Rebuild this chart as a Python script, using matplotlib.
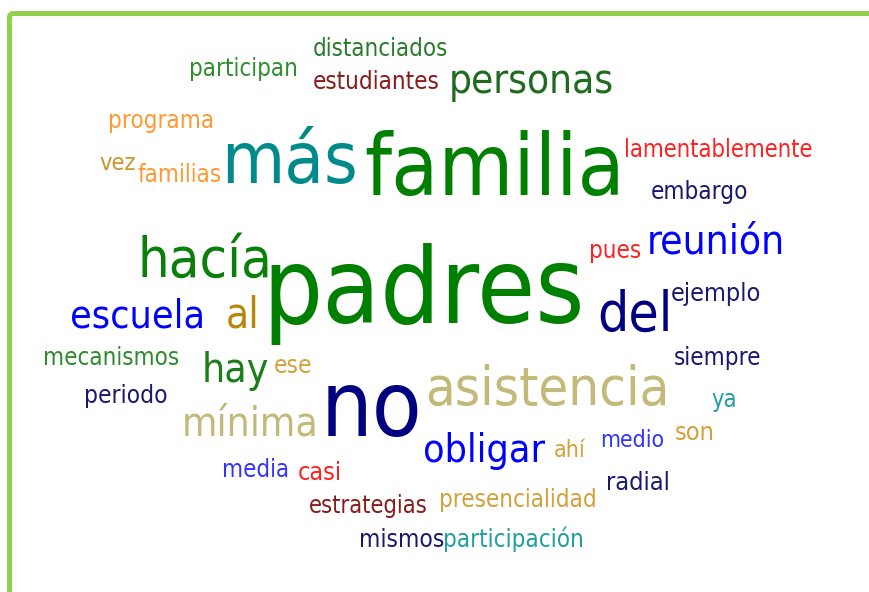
"""Word cloud: comentarios de padres sobre la asistencia."""

import matplotlib

matplotlib.use("Agg")
import matplotlib.pyplot as plt  # noqa: E402
from matplotlib import font_manager  # noqa: E402
from matplotlib.patches import FancyBboxPatch  # noqa: E402
from matplotlib.textpath import TextPath  # noqa: E402

# words of the cloud
words = [
    "padres", "familia", "más", "no", "asistencia", "hacía", "reunión",
    "escuela", "del", "personas", "mínima", "obligar", "hay", "al",
    "distanciados", "participan", "estudiantes", "programa", "vez",
    "familias", "lamentablemente", "embargo", "pues", "ejemplo",
    "mecanismos", "ese", "periodo", "media", "casi", "estrategias",
    "mismos", "siempre", "ya", "son", "medio", "ahí", "radial",
    "presencialidad", "participación",
]

# colour per word
colors = {
    "padres": "#008000", "familia": "#008000", "más": "#008b8b",
    "no": "#000080", "asistencia": "#c3b978", "hacía": "#0a7f0a",
    "reunión": "#0000ff", "escuela": "#0000ff", "del": "#000080",
    "personas": "#1f6b1f", "mínima": "#c3b978", "obligar": "#0000ff",
    "hay": "#197d19", "al": "#b8860b", "distanciados": "#2a7a2a",
    "participan": "#2f8f2f", "estudiantes": "#8b1a1a",
    "programa": "#ff9933", "vez": "#c8952a", "familias": "#ff9933",
    "lamentablemente": "#ff2020", "embargo": "#191970", "pues": "#ff2020",
    "ejemplo": "#191970", "mecanismos": "#2e8b2e", "ese": "#d4a03a",
    "periodo": "#191970", "media": "#3333ff", "casi": "#ff2020",
    "estrategias": "#8b1a1a", "mismos": "#191970", "siempre": "#191970",
    "ya": "#20a0a0", "son": "#d4a03a", "medio": "#3333ff", "ahí": "#d4a03a",
    "radial": "#191970", "presencialidad": "#d4a03a",
    "participación": "#20a0a0",
}

# layout: (left, right, baseline) in pixels of the canvas
layout = {
    "padres": (271, 580, 323), "familia": (366, 618, 195),
    "más": (227, 355, 183), "no": (328, 418, 436),
    "asistencia": (428, 665, 405), "hacía": (142, 268, 277),
    "reunión": (650, 782, 253), "escuela": (72, 202, 328),
    "del": (600, 668, 331), "personas": (452, 612, 93),
    "mínima": (185, 315, 436), "obligar": (425, 545, 462),
    "hay": (205, 268, 382), "al": (228, 256, 328),
    "distanciados": (314, 447, 56), "participan": (191, 296, 76),
    "estudiantes": (314, 438, 89), "programa": (110, 212, 128),
    "vez": (100, 135, 170), "familias": (138, 221, 182),
    "lamentablemente": (626, 813, 157), "embargo": (652, 747, 199),
    "pues": (591, 640, 258), "ejemplo": (672, 760, 301),
    "mecanismos": (45, 178, 365), "ese": (275, 311, 373),
    "periodo": (86, 166, 403), "media": (224, 287, 477),
    "casi": (299, 340, 480), "estrategias": (310, 427, 513),
    "mismos": (361, 443, 547), "siempre": (675, 760, 365),
    "ya": (712, 735, 407), "son": (676, 713, 440),
    "medio": (602, 663, 447), "ahí": (555, 586, 457),
    "radial": (608, 668, 490), "presencialidad": (441, 594, 507),
    "participación": (445, 582, 547),
}

W, H, DPI = 870, 592, 100


def pick_font():
    for entry in font_manager.fontManager.ttflist:
        if entry.fname.endswith("DejaVuSansCondensed.ttf"):
            return font_manager.FontProperties(fname=entry.fname)
    return font_manager.FontProperties(family="DejaVu Sans")


fp = pick_font()

fig = plt.figure(figsize=(W / DPI, H / DPI), dpi=DPI)
ax = fig.add_axes([0, 0, 1, 1])
ax.set_xlim(0, W)
ax.set_ylim(H, 0)
ax.axis("off")

# green frame, open towards the right and bottom edges
ax.add_patch(
    FancyBboxPatch(
        (9.5, 13.5), 900, 700,
        boxstyle="round,pad=0,rounding_size=4",
        fill=False, edgecolor="#92d050", linewidth=5 * 72 / DPI,
    )
)

for word in words:
    left, right, base = layout[word]
    ext = TextPath((0, 0), word, size=100, prop=fp).get_extents()
    px = (right - left) / (ext.width / 100.0)
    x0 = left - ext.x0 * px / 100.0
    ax.text(
        x0, base, word, fontproperties=fp, fontsize=px * 72 / DPI,
        color=colors[word], ha="left", va="baseline",
    )

fig.savefig("out.png", dpi=DPI)
